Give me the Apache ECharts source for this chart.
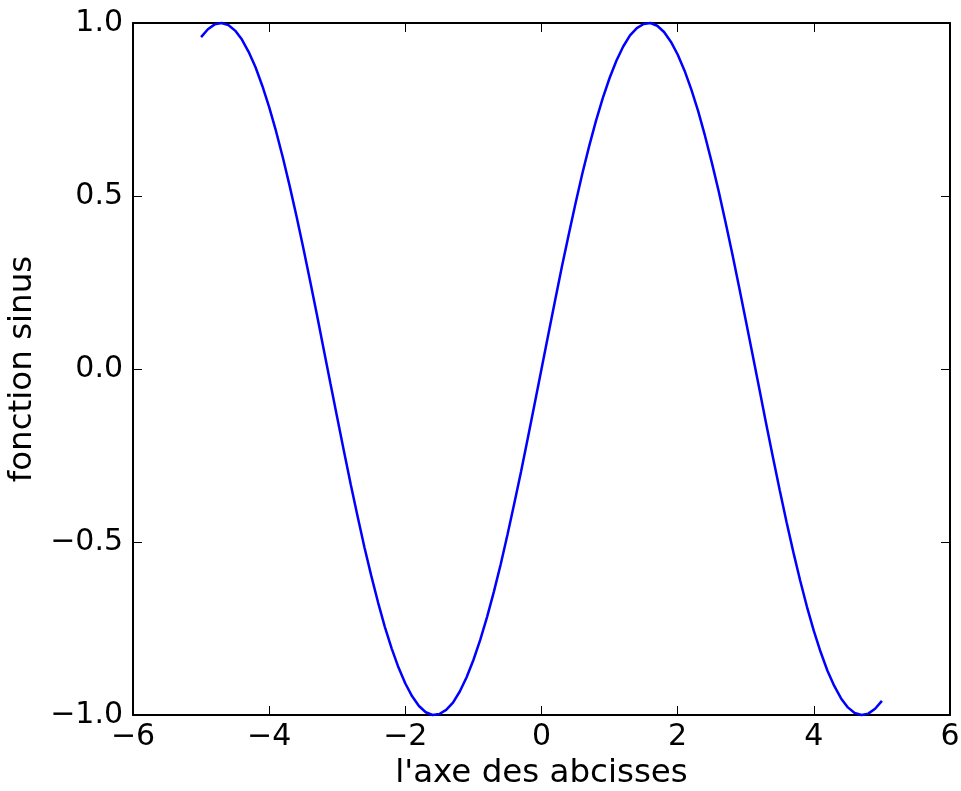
<!DOCTYPE html>
<html>
<head>
<meta charset="utf-8">
<script src="https://cdn.jsdelivr.net/npm/echarts@6/dist/echarts.min.js"></script>
<style>
html,body{margin:0;padding:0;background:#fff;}
#c{width:961px;height:791px;}
</style>
</head>
<body>
<div id="c"></div>
<script>
const xValues = [-5.0,-4.9,-4.8,-4.7,-4.6,-4.5,-4.4,-4.3,-4.2,-4.1,-4.0,-3.9,-3.8,-3.7,-3.6,-3.5,-3.4,-3.3,-3.2,-3.1,-3.0,-2.9,-2.8,-2.7,-2.6,-2.5,-2.4,-2.3,-2.2,-2.1,-2.0,-1.9,-1.8,-1.7,-1.6,-1.5,-1.4,-1.3,-1.2,-1.1,-1.0,-0.9,-0.8,-0.7,-0.6,-0.5,-0.4,-0.3,-0.2,-0.1,0.0,0.1,0.2,0.3,0.4,0.5,0.6,0.7,0.8,0.9,1.0,1.1,1.2,1.3,1.4,1.5,1.6,1.7,1.8,1.9,2.0,2.1,2.2,2.3,2.4,2.5,2.6,2.7,2.8,2.9,3.0,3.1,3.2,3.3,3.4,3.5,3.6,3.7,3.8,3.9,4.0,4.1,4.2,4.3,4.4,4.5,4.6,4.7,4.8,4.9,5.0];
const sinValues = [0.959,0.982,0.996,1.000,0.994,0.978,0.952,0.916,0.872,0.818,0.757,0.688,0.612,0.530,0.443,0.351,0.256,0.158,0.058,-0.042,-0.141,-0.239,-0.335,-0.427,-0.516,-0.598,-0.675,-0.746,-0.808,-0.863,-0.909,-0.946,-0.974,-0.992,-1.000,-0.997,-0.985,-0.964,-0.932,-0.891,-0.841,-0.783,-0.717,-0.644,-0.565,-0.479,-0.389,-0.296,-0.199,-0.100,0.000,0.100,0.199,0.296,0.389,0.479,0.565,0.644,0.717,0.783,0.841,0.891,0.932,0.964,0.985,0.997,1.000,0.992,0.974,0.946,0.909,0.863,0.808,0.746,0.675,0.598,0.516,0.427,0.335,0.239,0.141,0.042,-0.058,-0.158,-0.256,-0.351,-0.443,-0.530,-0.612,-0.688,-0.757,-0.818,-0.872,-0.916,-0.952,-0.978,-0.994,-1.000,-0.996,-0.982,-0.959];
const xTicks = {min: -6, max: 6, interval: 2};
const yTicks = {min: -1, max: 1, interval: 0.5};
const xLabel = "l'axe des abcisses";
const yLabel = "fonction sinus";

const FONT = "DejaVu Sans";
const minus = s => String(s).replace('-', '\u2212');
const lineStyle = {color: '#000', width: 2};
const tickStyle = {show: true, inside: true, length: 9, lineStyle: {color: '#000', width: 1}};

const chart = echarts.init(document.getElementById('c'), null, {renderer: 'canvas'});
chart.setOption({
  animation: false,
  backgroundColor: '#fff',
  grid: {left: 133, right: 11, top: 23, bottom: 76, containLabel: false, outerBoundsMode: 'none'},
  xAxis: [{
    type: 'value', position: 'bottom', min: xTicks.min, max: xTicks.max, interval: xTicks.interval,
    axisLine: {show: true, onZero: false, lineStyle: lineStyle},
    axisTick: tickStyle,
    splitLine: {show: false},
    axisLabel: {show: true, margin: 7, color: '#000', fontFamily: FONT, fontSize: 30, formatter: v => minus(v)},
    name: xLabel, nameLocation: 'middle', nameGap: 38,
    nameTextStyle: {color: '#000', fontFamily: FONT, fontSize: 32.5}
  }, {
    type: 'value', position: 'top', min: xTicks.min, max: xTicks.max, interval: xTicks.interval,
    axisLine: {show: true, onZero: false, lineStyle: lineStyle},
    axisTick: tickStyle, splitLine: {show: false}, axisLabel: {show: false}
  }],
  yAxis: [{
    type: 'value', position: 'left', min: yTicks.min, max: yTicks.max, interval: yTicks.interval,
    axisLine: {show: true, onZero: false, lineStyle: lineStyle},
    axisTick: tickStyle,
    splitLine: {show: false},
    axisLabel: {show: true, margin: 10, color: '#000', fontFamily: FONT, fontSize: 30, formatter: v => minus(v.toFixed(1))},
    name: yLabel, nameLocation: 'middle', nameGap: 94,
    nameTextStyle: {color: '#000', fontFamily: FONT, fontSize: 32.5}
  }, {
    type: 'value', position: 'right', min: yTicks.min, max: yTicks.max, interval: yTicks.interval,
    axisLine: {show: true, onZero: false, lineStyle: lineStyle},
    axisTick: tickStyle, splitLine: {show: false}, axisLabel: {show: false}
  }],
  series: [{
    type: 'line', xAxisIndex: 0, yAxisIndex: 0,
    data: xValues.map((x, i) => [x, sinValues[i]]),
    showSymbol: false, symbol: 'none', clip: false,
    lineStyle: {color: '#0000ff', width: 2.5}
  }]
});
</script>
</body>
</html>
